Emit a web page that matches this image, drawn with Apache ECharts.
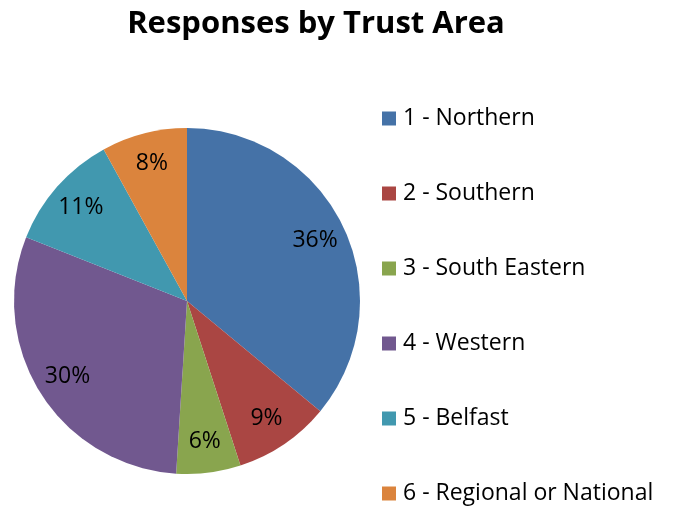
<!DOCTYPE html>
<html>
<head>
<meta charset="utf-8">
<script src="https://cdn.jsdelivr.net/npm/echarts@6/dist/echarts.min.js"></script>
<style>
  html, body { margin: 0; padding: 0; background: #ffffff; }
  #chart { width: 676px; height: 506px; }
</style>
</head>
<body>
<div id="chart"></div>
<script>
// Trust areas and share of responses (percent)
const areas = ['1 - Northern', '2 - Southern', '3 - South Eastern', '4 - Western', '5 - Belfast', '6 - Regional or National'];
const shares = [36, 9, 6, 30, 11, 8];
const sliceColors = ['#4572A7', '#AA4643', '#89A54E', '#71588F', '#4198AF', '#DB843D'];

const FONT = '"Open Sans", "Liberation Sans", sans-serif';
const pieData = areas.map((name, i) => ({ name, value: shares[i] }));

const chart = echarts.init(document.getElementById('chart'), null, { renderer: 'canvas' });
chart.setOption({
  animation: false,
  color: sliceColors,
  title: {
    text: 'Responses by Trust Area',
    left: 311,
    top: 4,
    textAlign: 'center',
    textStyle: { fontFamily: FONT, fontSize: 31, fontWeight: 'bold', color: '#000000' }
  },
  legend: {
    orient: 'vertical',
    left: 382,
    top: 107,
    height: 480,
    width: 290,
    padding: 0,
    icon: 'rect',
    itemWidth: 14,
    itemHeight: 14,
    itemGap: 52,
    data: areas,
    textStyle: { fontFamily: FONT, fontSize: 23, color: '#000000', lineHeight: 22, padding: [0, 0, 0, 2] }
  },
  series: [
    {
      type: 'pie',
      center: [187, 301],
      radius: [0, 173],
      startAngle: 90,
      clockwise: true,
      data: pieData,
      label: { show: false },
      labelLine: { show: false },
      emphasis: { disabled: true }
    },
    {
      // transparent ring carrying the percentage labels further out in each slice
      type: 'pie',
      center: [187, 301],
      radius: [104, 173],
      startAngle: 90,
      clockwise: true,
      silent: true,
      data: pieData,
      itemStyle: { color: 'rgba(0,0,0,0)' },
      label: {
        show: true,
        position: 'inside',
        formatter: p => p.value + '%',
        fontFamily: FONT,
        fontSize: 23,
        color: '#000000'
      },
      labelLine: { show: false },
      emphasis: { disabled: true }
    }
  ]
});
</script>
</body>
</html>
